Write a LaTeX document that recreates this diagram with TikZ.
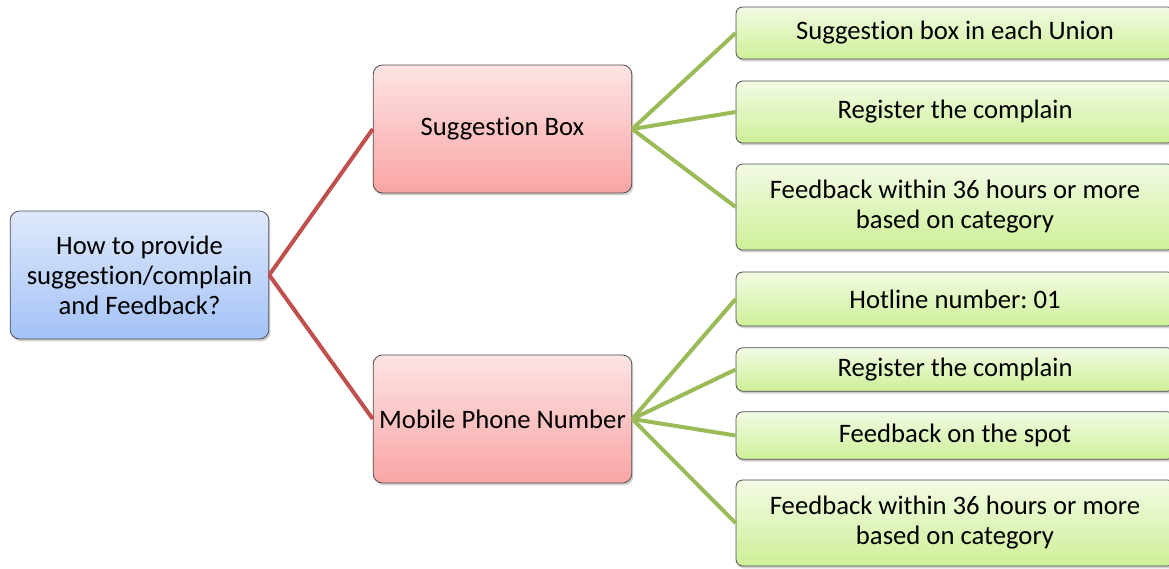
\documentclass[tikz,border=0pt]{standalone}
\usepackage{fontspec}
\setmainfont{Carlito}[Ligatures=NoCommon]
\usepackage{xcolor}
\usepackage{tikz}
\usetikzlibrary{shadows}
\frenchspacing
\definecolor{rootTop}{RGB}{222,233,252}
\definecolor{rootBot}{RGB}{164,194,247}
\definecolor{midTop}{RGB}{253,228,228}
\definecolor{midBot}{RGB}{250,164,164}
\definecolor{leafTop}{RGB}{242,251,228}
\definecolor{leafBot}{RGB}{206,240,152}
\definecolor{redline}{RGB}{192,80,77}
\definecolor{greenline}{RGB}{155,187,89}
\tikzset{
  box/.style={draw=black!70, line width=0.6pt, rounded corners=7pt, align=center,
    inner sep=2pt, font=\fontsize{20}{22.5}\selectfont,
    drop shadow={shadow xshift=1.2pt, shadow yshift=-1.8pt, opacity=0.3, fill=black!60}},
  rootbox/.style={box, top color=rootTop, bottom color=rootBot,
    minimum width=194pt, minimum height=96pt},
  midbox/.style={box, top color=midTop, bottom color=midBot,
    minimum width=194pt, minimum height=96pt},
  leafbox/.style={box, top color=leafTop, bottom color=leafBot, rounded corners=5pt,
    minimum width=328.5pt},
  redlink/.style={draw=redline, line width=3pt},
  greenlink/.style={draw=greenline, line width=3pt},
}
\begin{document}
\begin{tikzpicture}[x=0.75pt, y=-0.75pt]
  \useasboundingbox (0,0) rectangle (1169,568);

  % question box and the two channels
  \node[rootbox] (question) at (139.5,275) {How to provide\\suggestion/complain\\and Feedback?};
  \node[midbox] (sbox) at (502.5,129) {Suggestion Box};
  \node[midbox] (phone) at (502.5,419) {Mobile Phone Number};

  % steps for the suggestion box
  \node[leafbox, minimum height=39pt] (sb1) at (955,33) {Suggestion box in each Union};
  \node[leafbox, minimum height=46.5pt] (sb2) at (955,112) {Register the complain};
  \node[leafbox, minimum height=64.5pt] (sb3) at (955,207) {Feedback within 36 hours or more\\based on category};

  % steps for the hotline
  \node[leafbox, minimum height=40.5pt] (ph1) at (955,299) {Hotline number: 01};
  \node[leafbox, minimum height=32.5pt] (ph2) at (955,369.5) {Register the complain};
  \node[leafbox, minimum height=35.5pt] (ph3) at (955,435.5) {Feedback on the spot};
  \node[leafbox, minimum height=64.5pt] (ph4) at (955,523) {Feedback within 36 hours or more\\based on category};

  \draw[redlink] (question.east) -- (sbox.west);
  \draw[redlink] (question.east) -- (phone.west);

  \draw[greenlink] (sbox.east) -- (sb1.west);
  \draw[greenlink] (sbox.east) -- (sb2.west);
  \draw[greenlink] (sbox.east) -- (sb3.west);

  \draw[greenlink] (phone.east) -- (ph1.west);
  \draw[greenlink] (phone.east) -- (ph2.west);
  \draw[greenlink] (phone.east) -- (ph3.west);
  \draw[greenlink] (phone.east) -- (ph4.west);
\end{tikzpicture}
\end{document}
